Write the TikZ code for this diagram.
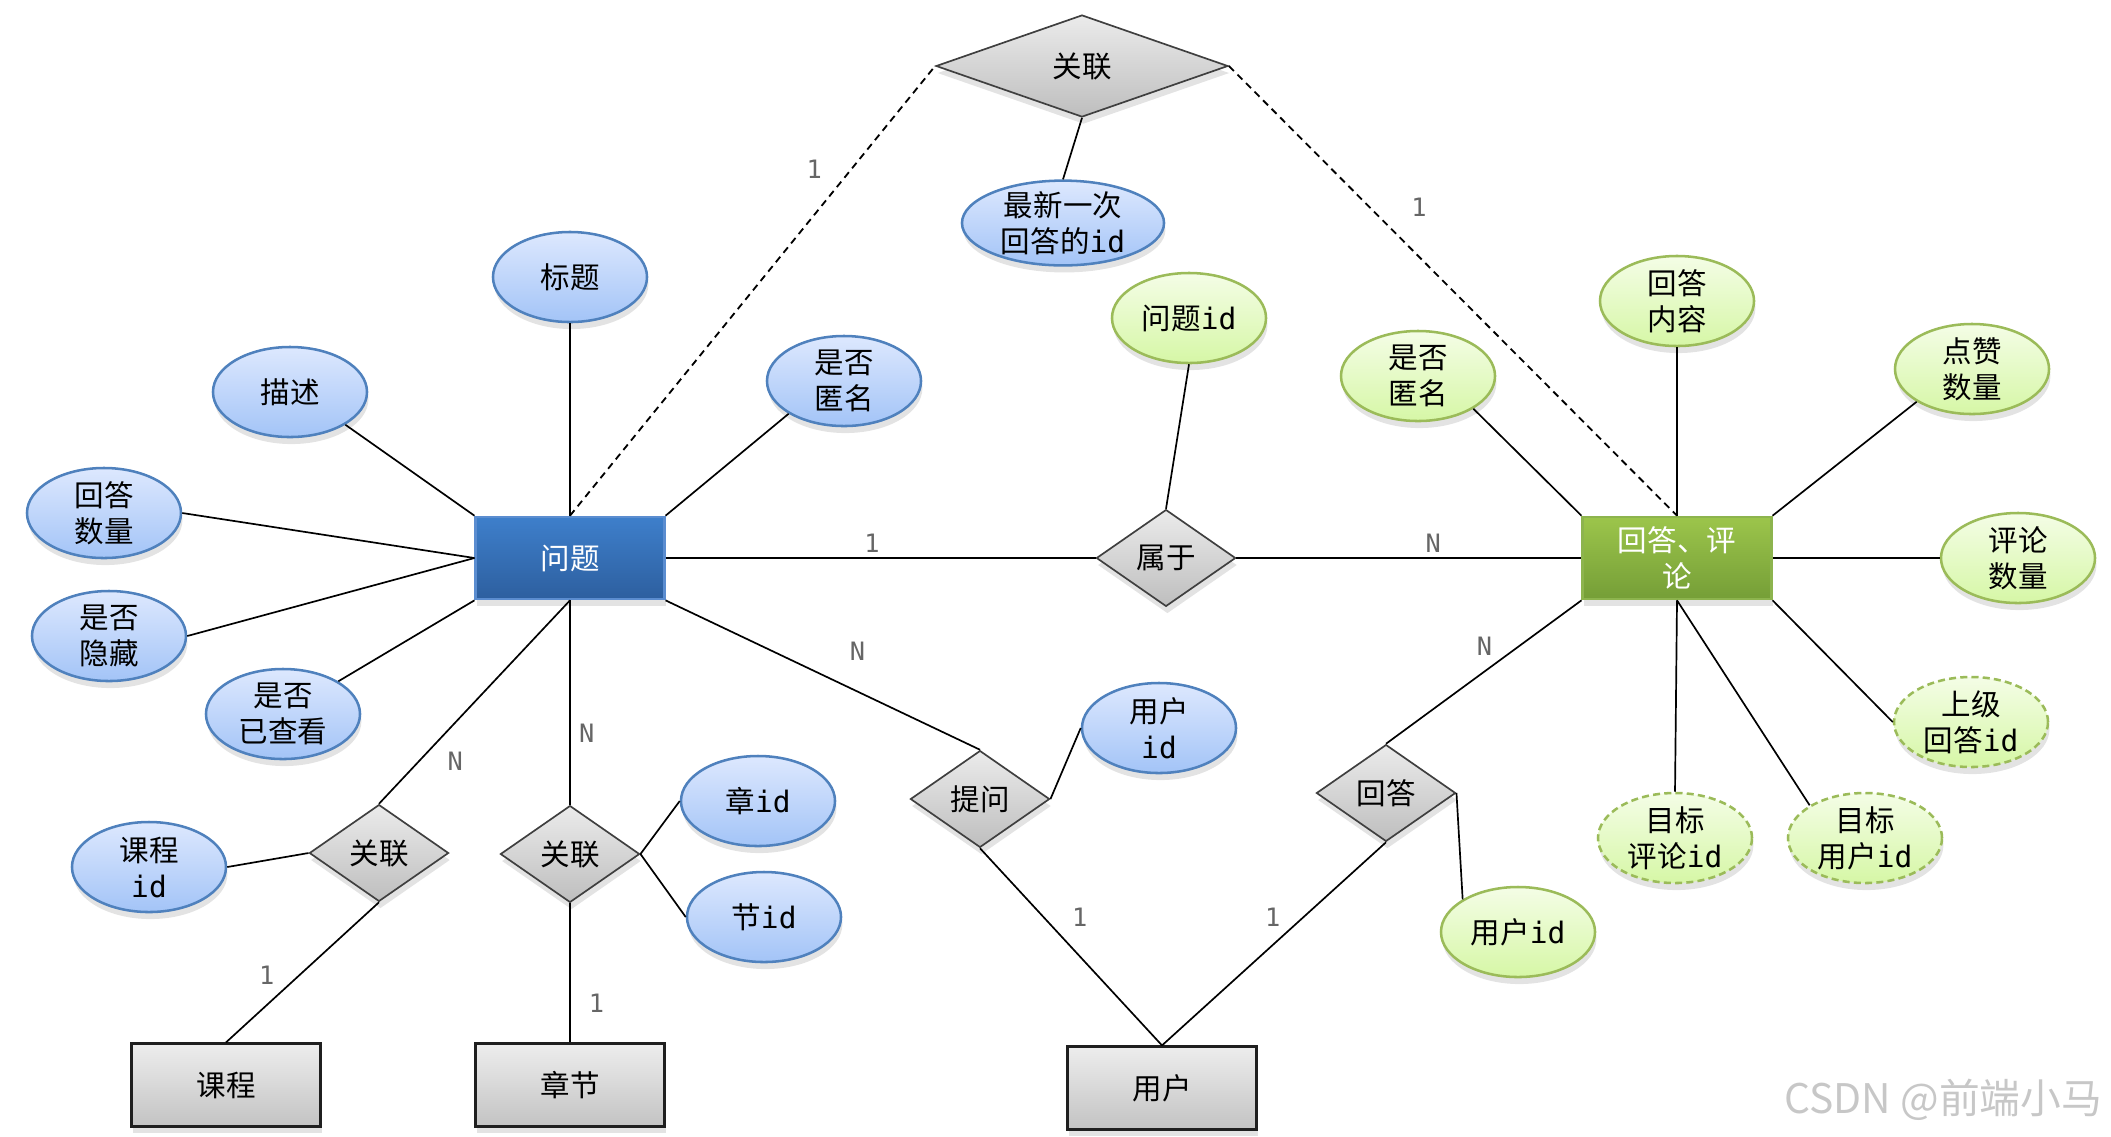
\documentclass[tikz,border=0pt]{standalone}
\usepackage{fontspec}
\setmainfont{Noto Sans CJK SC}
\setmonofont{DejaVu Sans Mono}
\usetikzlibrary{shapes.geometric,shadows}

\definecolor{blueTop}{HTML}{DDE8FE}
\definecolor{blueBot}{HTML}{A3C4F7}
\definecolor{blueLine}{HTML}{4F81BD}
\definecolor{greenTop}{HTML}{F4FDE6}
\definecolor{greenBot}{HTML}{D6F7A6}
\definecolor{greenLine}{HTML}{9BBB59}
\definecolor{relTop}{HTML}{EBEBEB}
\definecolor{relBot}{HTML}{BEBEBE}
\definecolor{relLine}{HTML}{3F3F3F}
\definecolor{entTop}{HTML}{EDEDED}
\definecolor{entBot}{HTML}{C3C3C3}
\definecolor{entLine}{HTML}{1F1F1F}

\tikzset{
  softshadow/.style={drop shadow={opacity=0.22, shadow xshift=0.5pt, shadow yshift=-2.5pt}},
  ent/.style={rectangle, minimum width=2.36cm, minimum height=1.03cm, inner sep=1pt,
    line width=1pt, draw=entLine, top color=entTop, bottom color=entBot, softshadow},
  blueent/.style={draw={rgb,255:red,91;green,141;blue,208}, top color={rgb,255:red,62;green,127;blue,203},
    bottom color={rgb,255:red,45;green,95;blue,159}, text=white, line width=0.8pt},
  greenent/.style={draw={rgb,255:red,141;green,180;blue,78}, top color={rgb,255:red,156;green,197;blue,75},
    bottom color={rgb,255:red,117;green,158;blue,55}, text=white, line width=0.8pt, align=center},
  rel/.style={diamond, minimum width=1.74cm, minimum height=1.21cm, inner sep=0pt,
    line width=0.6pt, draw=relLine, top color=relTop, bottom color=relBot, softshadow},
  battr/.style={ellipse, minimum width=1.925cm, minimum height=1.125cm, inner xsep=0pt, inner ysep=-1pt,
    align=center, line width=0.9pt, draw=blueLine, top color=blueTop, bottom color=blueBot, softshadow},
  gattr/.style={battr, draw=greenLine, top color=greenTop, bottom color=greenBot},
  optional/.style={dash pattern=on 2.5pt off 1.5pt},
  dashline/.style={dash pattern=on 2.5pt off 1.8pt, line width=0.65pt},
  card/.style={font=\ttfamily\fontsize{9}{10}\selectfont, text=black!60, inner sep=0pt}
}

\begin{document}
\begin{tikzpicture}[x=0.0125cm, y=-0.0125cm, font=\fontsize{10.5}{12.8}\selectfont, line width=0.6pt]
\useasboundingbox (0,0) rectangle (2111,1136);

% Entities
\node[ent, blueent] (question) at (570,558) {问题};
\node[ent, greenent] (reply) at (1677,558) {回答、评\\论};
\node[ent] (course) at (226,1085) {课程};
\node[ent] (chapter) at (570,1085) {章节};
\node[ent] (user) at (1162,1088) {用户};

% Relationships
\node[rel, minimum width=3.65cm, minimum height=1.275cm] (latest) at (1082,66) {关联};
\node[rel] (belongs) at (1166,558) {属于};
\node[rel] (ask) at (980,799) {提问};
\node[rel] (answer) at (1386,793) {回答};
\node[rel] (courselink) at (379,853) {关联};
\node[rel] (chapterlink) at (570,854) {关联};

% Question attributes
\node[battr] (title) at (570,277) {标题};
\node[battr] (desc) at (290,392) {描述};
\node[battr] (answers) at (104,513) {回答\\数量};
\node[battr] (hidden) at (109,636) {是否\\隐藏};
\node[battr] (seen) at (283,714) {是否\\已查看};
\node[battr] (anon) at (844,381) {是否\\匿名};
\node[battr] (courseid) at (149,867) {课程\\{\ttfamily id}};
\node[battr] (chapid) at (758,801) {章{\ttfamily id}};
\node[battr] (sectid) at (764,917) {节{\ttfamily id}};
\node[battr] (askuid) at (1159,728) {用户\\{\ttfamily id}};
\node[battr, minimum width=2.525cm, minimum height=1.06cm] (latestid) at (1063,223) {最新一次\\回答的{\ttfamily id}};

% Reply attributes
\node[gattr] (qid) at (1189,318) {问题{\ttfamily id}};
\node[gattr] (ranon) at (1418,376) {是否\\匿名};
\node[gattr] (content) at (1677,301) {回答\\内容};
\node[gattr] (likes) at (1972,369) {点赞\\数量};
\node[gattr] (comments) at (2018,558) {评论\\数量};
\node[gattr, optional] (parent) at (1971,722) {上级\\回答{\ttfamily id}};
\node[gattr, optional] (tcomment) at (1675,838) {目标\\评论{\ttfamily id}};
\node[gattr, optional] (tuser) at (1865,838) {目标\\用户{\ttfamily id}};
\node[gattr] (ansuid) at (1518,932) {用户{\ttfamily id}};

% Attribute links
\draw (title.south) -- (question.north);
\draw (desc.south east) -- (question.north west);
\draw (answers.east) -- (question.west);
\draw (hidden.east) -- (question.west);
\draw (seen.north east) -- (question.south west);
\draw (anon.south west) -- (question.north east);
\draw (ranon.south east) -- (reply.north west);
\draw (content.south) -- (reply.north);
\draw (likes.south west) -- (reply.north east);
\draw (comments.west) -- (reply.east);
\draw (parent.west) -- (reply.south east);
\draw (tcomment.north) -- (reply.south);
\draw (tuser.north west) -- (reply.south);

% Relationship links
\draw[dashline] (question.north) -- (latest.west) node[card, pos=0.77, xshift=-0.46cm] {1};
\draw[dashline] (latest.east) -- (reply.north) node[card, pos=0.315, xshift=0.61cm] {1};
\draw (latest.south) -- (latestid.north);
\draw (question.east) -- (belongs.west) node[card, pos=0.48, yshift=0.18cm] {1};
\draw (belongs.east) -- (reply.west) node[card, pos=0.57, yshift=0.18cm] {N};
\draw (belongs.north) -- (qid.south);
\draw (question.south east) -- (ask.north) node[card, pos=0.61, yshift=0.5cm] {N};
\draw (ask.east) -- (askuid.west);
\draw (ask.south) -- (user.north) node[card, pos=0.35, xshift=0.45cm] {1};
\draw (reply.south west) -- (answer.north) node[card, pos=0.32, xshift=-0.43cm] {N};
\draw (answer.east) -- (ansuid.north west);
\draw (answer.south) -- (user.north) node[card, pos=0.37, xshift=-0.38cm] {1};
\draw (question.south) -- (courselink.north) node[card, pos=0.79, xshift=0.45cm] {N};
\draw (courselink.west) -- (courseid.east);
\draw (courselink.south) -- (course.north) node[card, pos=0.52, xshift=-0.41cm] {1};
\draw (question.south) -- (chapterlink.north) node[card, pos=0.65, xshift=0.21cm] {N};
\draw (chapterlink.east) -- (chapid.west);
\draw (chapterlink.east) -- (sectid.west);
\draw (chapterlink.south) -- (chapter.north) node[card, pos=0.72, xshift=0.33cm] {1};

% Watermark
\node[anchor=east, text=black!22, font=\fontsize{14.5}{16}\selectfont, inner sep=0pt] (mark) at (2103,1100) {CSDN @前端小马};

\end{tikzpicture}
\end{document}
